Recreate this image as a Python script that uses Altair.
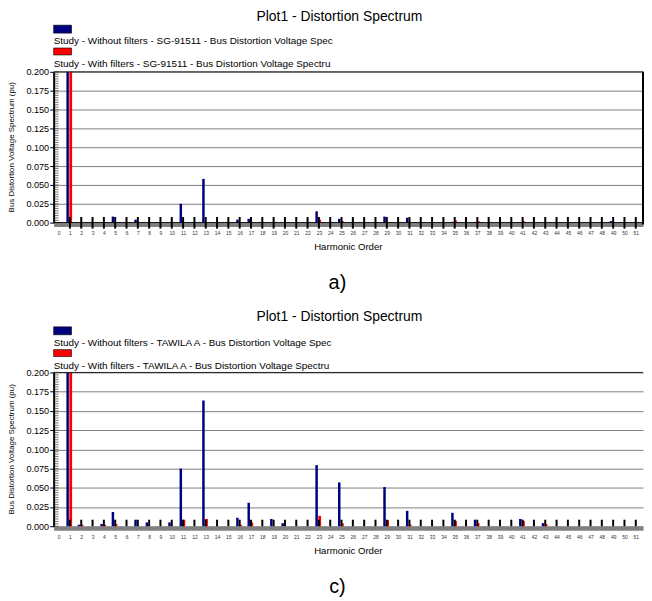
import altair as alt
import pandas as pd

TITLE = "Plot1 - Distortion Spectrum"
Y_TITLE = "Bus Distortion Voltage Spectrum (pu)"
X_TITLE = "Harmonic Order"

top_labels = ["Study - Without filters - SG-91511 - Bus Distortion Voltage Spec",
              "Study - With filters - SG-91511 - Bus Distortion Voltage Spectru"]
bot_labels = ["Study - Without filters - TAWILA A - Bus Distortion Voltage Spec",
              "Study - With filters - TAWILA A - Bus Distortion Voltage Spectru"]

# (a) SG-91511
top_h_wo = [1, 5, 7, 11, 13, 16, 17, 23, 25, 29, 31, 35, 37, 49]
top_v_wo = [1.0, 0.008, 0.004, 0.025, 0.058, 0.004, 0.005, 0.015, 0.005, 0.008, 0.0065, 0.001, 0.001, 0.002]
top_h_w = [1, 23, 25, 35, 37, 41]
top_v_w = [1.0, 0.004, 0.002, 0.003, 0.002, 0.002]

# (c) TAWILA A
bot_h_wo = [1, 2, 4, 5, 7, 8, 10, 11, 13, 16, 17, 19, 20, 23, 25, 29, 31, 35, 37, 41, 43]
bot_v_wo = [1.0, 0.002, 0.003, 0.0185, 0.0085, 0.005, 0.005, 0.075, 0.1635, 0.011, 0.0305,
            0.0095, 0.004, 0.0795, 0.057, 0.051, 0.020, 0.0175, 0.0085, 0.0095, 0.004]
bot_h_w = [1, 2, 4, 5, 11, 13, 16, 17, 23, 25, 29, 31, 35, 37, 41, 43]
bot_v_w = [1.0, 0.002, 0.002, 0.003, 0.0085, 0.0095, 0.002, 0.005, 0.0135, 0.004, 0.008,
           0.002, 0.007, 0.004, 0.007, 0.003]

x_ticks = list(range(0, 52))
marker_h = list(range(1, 52))
y_ticks = [0.0, 0.025, 0.05, 0.075, 0.1, 0.125, 0.15, 0.175, 0.2]
minor_ticks = [0.003125 * i for i in range(65)]

BLUE = "#00007f"
RED = "#ff0000"
W = 594
FONT = "Liberation Sans"


def txt(t, x, y, size, align="left", angle=0):
    return alt.Chart(pd.DataFrame({"t": [t]})).mark_text(
        align=align, baseline="middle", fontSize=size, angle=angle, color="black"
    ).encode(text="t:N", x=alt.value(x), y=alt.value(y))


def swatch(color, y0, y1):
    return alt.Chart(pd.DataFrame({"c": [color]})).mark_rect(
        fill=color, stroke="black", strokeWidth=0.6
    ).encode(x=alt.value(0), x2=alt.value(18), y=alt.value(y0), y2=alt.value(y1))


def panel(H, h_wo, v_wo, h_w, v_w, labels, caption, tick_top, tick_below, ytop, frame):
    xscale = alt.Scale(domain=[0, 51.2], nice=False, zero=False)
    yscale = alt.Scale(domain=[0, 0.2], clamp=True, nice=False, zero=False)
    xaxis = alt.Axis(values=x_ticks, title=None, grid=False, ticks=False, tickSize=0,
                     labelFontSize=5, labelColor="#333333", labelPadding=6,
                     domainColor="#808080", domainWidth=4, offset=2, labelAngle=0,
                     labelOverlap=False, labelFlush=False, format="d")
    yaxis = alt.Axis(values=y_ticks, title=None, format=".3f", grid=True,
                     gridColor="#808080", gridWidth=1, tickSize=4, tickColor="black",
                     labelFontSize=9.2, labelPadding=1, labelColor="black",
                     domainColor="black", domainWidth=2)
    df_wo = pd.DataFrame({"h": h_wo, "v": v_wo})
    df_w = pd.DataFrame({"h": h_w, "v": v_w})
    blue = alt.Chart(df_wo).mark_bar(size=2.5, color=BLUE, xOffset=-2.3).encode(
        x=alt.X("h:Q", scale=xscale, axis=xaxis),
        y=alt.Y("v:Q", scale=yscale, axis=yaxis),
        y2=alt.datum(0),
    )
    red = alt.Chart(df_w).mark_bar(size=2.8, color=RED, xOffset=0.8).encode(
        x=alt.X("h:Q", scale=xscale, axis=xaxis),
        y=alt.Y("v:Q", scale=yscale, axis=yaxis),
        y2=alt.datum(0),
    )
    ticks = alt.Chart(pd.DataFrame({"h": marker_h, "t": [tick_top] * len(marker_h)})).mark_rule(
        color="black", strokeWidth=2).encode(
        x=alt.X("h:Q", scale=xscale, axis=xaxis),
        y=alt.Y("t:Q", scale=yscale, axis=yaxis),
        y2=alt.value(H + tick_below),
    )
    minor = alt.Chart(pd.DataFrame({"m": minor_ticks})).mark_rule(color="#555555", strokeWidth=0.8).encode(
        y=alt.Y("m:Q", scale=yscale, axis=yaxis),
        x=alt.value(1),
        x2=alt.value(5),
    )
    layers = [blue, red, ticks, minor]
    layers.append(alt.Chart(pd.DataFrame({"a": [0]})).mark_rule(color="#222222", strokeWidth=1).encode(
        x=alt.value(0), x2=alt.value(W), y=alt.value(0)))
    if frame:
        layers.append(alt.Chart(pd.DataFrame({"a": [0]})).mark_rule(color="black", strokeWidth=1).encode(
            x=alt.value(0), x2=alt.value(W), y=alt.value(H)))
        layers.append(alt.Chart(pd.DataFrame({"a": [0]})).mark_rule(color="black", strokeWidth=2).encode(
            x=alt.value(W), y=alt.value(0), y2=alt.value(H + 2)))
    layers += [
        txt(TITLE, 288, ytop[0], 14, align="center"),
        swatch(BLUE, ytop[1], ytop[1] + 8),
        txt(labels[0], 0, ytop[2], 10),
        swatch(RED, ytop[3], ytop[3] + 7),
        txt(labels[1], 0, ytop[4], 10),
        txt(Y_TITLE, -41.5, H / 2, 8, align="center", angle=270),
        txt(X_TITLE, 297, H + 25, 9.7, align="center"),
        txt(caption, 286, H + 61, 20, align="center"),
    ]
    return alt.layer(*layers).properties(width=W, height=H)


top = panel(152, top_h_wo, top_v_wo, top_h_w, top_v_w, top_labels, "a)", 0.0075, 6,
            [-55, -47, -31, -24, -8], True)
bot = panel(155, bot_h_wo, bot_v_wo, bot_h_w, bot_v_w, bot_labels, "c)", 0.0085, 0,
            [-56, -46, -30, -23, -6], False)

chart = alt.vconcat(top, bot, spacing=151, bounds="flush", padding=0).configure(
    font=FONT
).configure_view(stroke=None)

chart.save("out.html", embed_options={"renderer": "svg", "actions": False})
